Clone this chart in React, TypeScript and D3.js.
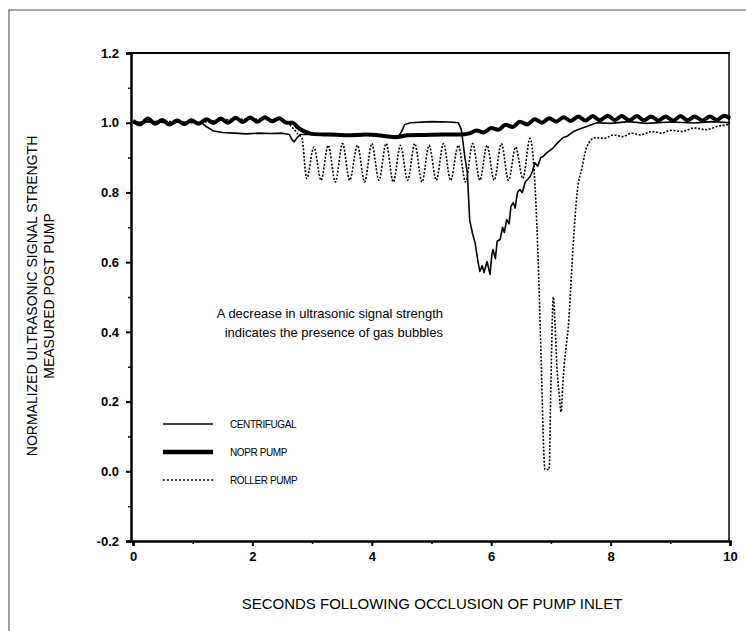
import React, { useEffect, useRef } from 'react';
import * as d3 from 'd3';

// values: [seconds, normalized signal]
const centrifugal: [number, number][] = [
  [0, 1.0], [0.3, 1.003], [0.6, 1.0], [0.9, 1.002], [1.15, 1.0], [1.22, 0.99], [1.35, 0.976],
  [1.5, 0.972], [1.7, 0.97], [1.9, 0.968], [2.1, 0.97], [2.3, 0.969], [2.5, 0.97], [2.62, 0.966],
  [2.66, 0.952], [2.7, 0.945], [2.74, 0.955], [2.8, 0.966], [3.1, 0.966], [3.5, 0.964], [3.9, 0.965],
  [4.2, 0.962], [4.45, 0.962], [4.5, 0.975], [4.55, 0.995], [4.65, 1.0], [5.0, 1.003], [5.3, 1.002],
  [5.45, 1.0], [5.5, 0.98], [5.56, 0.9], [5.6, 0.857], [5.64, 0.72], [5.69, 0.68], [5.73, 0.656],
  [5.78, 0.6], [5.81, 0.573], [5.85, 0.59], [5.88, 0.57], [5.93, 0.602], [5.96, 0.58], [5.98, 0.565],
  [6.01, 0.62], [6.03, 0.636], [6.07, 0.61], [6.1, 0.66], [6.15, 0.665], [6.19, 0.7], [6.22, 0.685],
  [6.26, 0.722], [6.3, 0.71], [6.33, 0.76], [6.37, 0.771], [6.4, 0.755], [6.44, 0.8], [6.48, 0.808],
  [6.52, 0.8], [6.57, 0.83], [6.65, 0.845], [6.69, 0.86], [6.73, 0.885], [6.78, 0.875], [6.83, 0.9],
  [6.87, 0.903], [6.92, 0.912], [6.98, 0.92], [7.04, 0.928], [7.1, 0.94], [7.2, 0.957], [7.28, 0.962],
  [7.37, 0.974], [7.48, 0.982], [7.6, 0.989], [7.77, 1.0], [8.0, 0.998], [8.3, 1.003], [8.6, 0.998],
  [9.0, 1.002], [9.4, 0.999], [9.7, 1.003], [10, 1.0],
];

const noprPump: [number, number][] = [
  [0, 1.005], [0.12, 0.995], [0.25, 1.012], [0.37, 0.997], [0.49, 1.008], [0.61, 0.995], [0.74, 1.006],
  [0.86, 0.996], [0.98, 1.007], [1.1, 0.997], [1.23, 1.01], [1.35, 0.999], [1.47, 1.012], [1.59, 1.0],
  [1.72, 1.014], [1.84, 1.002], [1.96, 1.015], [2.08, 1.003], [2.21, 1.016], [2.33, 1.004], [2.45, 1.013],
  [2.57, 1.0], [2.67, 1.0], [2.77, 0.985], [2.87, 0.975], [3.0, 0.968], [3.3, 0.966], [3.6, 0.964],
  [3.9, 0.966], [4.2, 0.962], [4.4, 0.958], [4.6, 0.964], [4.9, 0.965], [5.2, 0.966], [5.5, 0.966],
  [5.65, 0.97], [5.75, 0.978], [5.87, 0.972], [6.0, 0.985], [6.12, 0.98], [6.24, 0.994], [6.36, 0.988],
  [6.48, 1.003], [6.6, 0.995], [6.73, 1.01], [6.85, 1.0], [6.97, 1.013], [7.09, 1.003], [7.21, 1.016],
  [7.33, 1.005], [7.46, 1.018], [7.58, 1.006], [7.7, 1.019], [7.82, 1.007], [7.95, 1.02], [8.07, 1.008],
  [8.19, 1.019], [8.31, 1.007], [8.44, 1.019], [8.56, 1.007], [8.68, 1.018], [8.8, 1.006], [8.92, 1.018],
  [9.05, 1.006], [9.17, 1.019], [9.29, 1.007], [9.41, 1.018], [9.54, 1.006], [9.66, 1.018], [9.78, 1.008],
  [9.9, 1.02], [10, 1.012],
];

const rollerPump: [number, number][] = [
  [0, 1.0], [0.5, 1.004], [1.0, 1.0], [1.5, 1.008], [2.0, 1.01], [2.5, 1.008], [2.65, 0.99], [2.75, 0.97],
  [2.83, 0.955], [2.91, 0.84], [3.03, 0.93], [3.15, 0.835], [3.27, 0.935], [3.39, 0.83], [3.51, 0.94],
  [3.63, 0.835], [3.76, 0.935], [3.88, 0.83], [4.0, 0.94], [4.12, 0.835], [4.24, 0.94], [4.36, 0.83],
  [4.48, 0.935], [4.6, 0.835], [4.72, 0.94], [4.84, 0.83], [4.96, 0.935], [5.08, 0.835], [5.2, 0.94],
  [5.32, 0.835], [5.45, 0.935], [5.57, 0.83], [5.69, 0.94], [5.81, 0.835], [5.93, 0.935], [6.05, 0.835],
  [6.17, 0.94], [6.29, 0.835], [6.41, 0.93], [6.53, 0.84], [6.65, 0.955], [6.72, 0.86], [6.78, 0.64],
  [6.84, 0.3], [6.88, 0.06], [6.9, 0.005], [6.97, 0.005], [7.0, 0.25], [7.04, 0.5], [7.07, 0.42],
  [7.1, 0.3], [7.14, 0.22], [7.17, 0.17], [7.2, 0.25], [7.23, 0.32], [7.25, 0.35], [7.27, 0.38],
  [7.29, 0.41], [7.33, 0.52], [7.37, 0.64], [7.44, 0.8], [7.52, 0.87], [7.6, 0.93], [7.74, 0.957],
  [7.9, 0.955], [8.05, 0.965], [8.2, 0.96], [8.35, 0.97], [8.5, 0.965], [8.7, 0.975], [8.85, 0.97],
  [9.0, 0.978], [9.2, 0.975], [9.4, 0.985], [9.6, 0.98], [9.8, 0.99], [10, 0.995],
];

const xTicks = [0, 2, 4, 6, 8, 10];
const yTicks = [-0.2, 0.0, 0.2, 0.4, 0.6, 0.8, 1.0, 1.2];
const legendLabels = ['CENTRIFUGAL', 'NOPR PUMP', 'ROLLER PUMP'];
const noteLines = ['A decrease in ultrasonic signal strength', 'indicates the presence of gas bubbles'];

const font = '"Liberation Sans", Arial, sans-serif';

export default function App() {
  const ref = useRef<SVGSVGElement | null>(null);

  useEffect(() => {
    const svg = d3.select(ref.current);
    svg.selectAll('*').remove();

    const x = d3.scaleLinear().domain([0, 10]).range([133, 730]);
    const y = d3.scaleLinear().domain([-0.2, 1.2]).range([541, 53]);

    // page frame (scan border)
    svg.append('rect').attr('x', 9).attr('y', 10).attr('width', 800).attr('height', 700)
      .attr('fill', 'none').attr('stroke', '#444').attr('stroke-width', 1);

    // plot frame
    svg.append('line').attr('x1', 129).attr('x2', 730).attr('y1', y(1.2)).attr('y2', y(1.2))
      .attr('stroke', '#000').attr('stroke-width', 2);
    svg.append('line').attr('x1', 729).attr('x2', 729).attr('y1', y(1.2)).attr('y2', y(-0.2))
      .attr('stroke', '#000').attr('stroke-width', 1.5);

    const yFmt = (d: d3.NumberValue) => d3.format('.1f')(+d).replace('\u2212', '-');
    const yAxis = svg.append('g').attr('transform', 'translate(131,0)')
      .call(d3.axisLeft(y).tickValues(yTicks).tickSize(5).tickPadding(7).tickFormat(yFmt));
    yAxis.select('.domain').attr('stroke-width', 2.5);
    yAxis.selectAll('.tick line').attr('stroke-width', 2);
    yAxis.selectAll('text').attr('font-family', font).attr('font-size', 13).attr('font-weight', 'bold');
    svg.append('g').attr('transform', 'translate(131,0)')
      .call(d3.axisLeft(y).tickValues(d3.range(-0.1, 1.2, 0.2)).tickSize(3).tickFormat(() => ''))
      .call(g => g.select('.domain').remove())
      .selectAll('.tick line').attr('stroke-width', 1.5);

    const xAxis = svg.append('g').attr('transform', `translate(0,${y(-0.2)})`)
      .call(d3.axisBottom(x).tickValues(xTicks).tickSize(5).tickPadding(6).tickFormat(d3.format('d')));
    xAxis.select('.domain').attr('stroke-width', 2.5);
    xAxis.selectAll('.tick line').attr('stroke-width', 2);
    xAxis.selectAll('text').attr('font-family', font).attr('font-size', 13).attr('font-weight', 'bold');
    svg.append('g').attr('transform', `translate(0,${y(-0.2)})`)
      .call(d3.axisBottom(x).tickValues([1, 3, 5, 7, 9]).tickSize(3).tickFormat(() => ''))
      .call(g => g.select('.domain').remove())
      .selectAll('.tick line').attr('stroke-width', 1.5);

    const smooth = d3.line<[number, number]>().x(d => x(d[0])).y(d => y(d[1])).curve(d3.curveMonotoneX);
    const jagged = d3.line<[number, number]>().x(d => x(d[0])).y(d => y(d[1]));

    svg.append('path').attr('d', jagged(centrifugal)).attr('fill', 'none')
      .attr('stroke', '#000').attr('stroke-width', 1.6).attr('stroke-linejoin', 'round');
    svg.append('path').attr('d', smooth(noprPump)).attr('fill', 'none')
      .attr('stroke', '#000').attr('stroke-width', 4).attr('stroke-linejoin', 'round');
    svg.append('path').attr('d', smooth(rollerPump)).attr('fill', 'none')
      .attr('stroke', '#000').attr('stroke-width', 1.6).attr('stroke-dasharray', '2,1.6');

    // legend
    const legend = svg.append('g');
    const styles = [
      { w: 1.3, dash: null },
      { w: 4.5, dash: null },
      { w: 1.5, dash: '2,2' },
    ];
    legendLabels.forEach((label, i) => {
      const ly = 424 + i * 28;
      legend.append('line').attr('x1', 163).attr('x2', 213).attr('y1', ly).attr('y2', ly)
        .attr('stroke', '#000').attr('stroke-width', styles[i].w)
        .attr('stroke-dasharray', styles[i].dash);
      legend.append('text').attr('x', 230).attr('y', ly + 4).text(label)
        .attr('font-family', font).attr('font-size', 10).attr('letter-spacing', -0.4);
    });

    // annotation
    noteLines.forEach((t, i) => {
      svg.append('text').attr('x', 443).attr('y', 318 + i * 19).attr('text-anchor', 'end')
        .attr('font-family', font).attr('font-size', 13).text(t);
    });

    // axis titles
    svg.append('text').attr('x', 432).attr('y', 609).attr('text-anchor', 'middle')
      .attr('font-family', font).attr('font-size', 15).text('SECONDS FOLLOWING OCCLUSION OF PUMP INLET');
    const yt = svg.append('g').attr('transform', 'translate(0,296) rotate(-90)');
    yt.append('text').attr('x', 0).attr('y', 37).attr('text-anchor', 'middle')
      .attr('font-family', font).attr('font-size', 14).text('NORMALIZED ULTRASONIC SIGNAL STRENGTH');
    yt.append('text').attr('x', 0).attr('y', 54).attr('text-anchor', 'middle')
      .attr('font-family', font).attr('font-size', 14).text('MEASURED POST PUMP');
  }, []);

  return (
    <svg ref={ref} width={746} height={631}
      style={{ position: 'absolute', left: 0, top: 0, background: '#fff' }} />
  );
}
